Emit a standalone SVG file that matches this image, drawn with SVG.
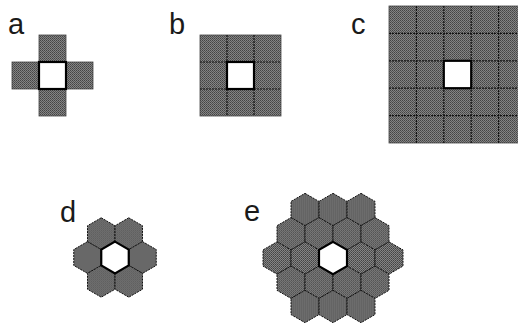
<svg xmlns="http://www.w3.org/2000/svg" width="518" height="327" viewBox="0 0 518 327">
<defs>
<pattern id="dith" patternUnits="userSpaceOnUse" width="2" height="2">
<rect width="2" height="2" fill="#848484"/>
<rect width="1" height="1" fill="#444"/>
<rect x="1" y="1" width="1" height="1" fill="#545454"/>
</pattern>
<polygon id="hd" points="0,-15.88 13.75,-7.94 13.75,7.94 0,15.88 -13.75,7.94 -13.75,-7.94"/>
<polygon id="he" points="0,-16.17 14,-8.08 14,8.08 0,16.17 -14,8.08 -14,-8.08"/>
</defs>
<style>
.lbl{font-family:"Liberation Sans",Arial,sans-serif;font-size:29px;fill:#1a1a1a}
.cell{fill:url(#dith);stroke:#444;stroke-width:0.8}
.grid{stroke:#111;stroke-width:1.2;stroke-dasharray:2 1;fill:none}
.hex{fill:url(#dith);stroke:#111;stroke-width:1;stroke-dasharray:2 1}
.hole{fill:#fff;stroke:#000;stroke-width:2.2}
</style>
<rect width="518" height="327" fill="#fff"/>

<g id="panel-a">
<text class="lbl" x="8" y="34">a</text>
<rect class="cell" x="39" y="35" width="27" height="27"/>
<rect class="cell" x="12" y="62" width="27" height="27"/>
<rect class="cell" x="66" y="62" width="27" height="27"/>
<rect class="cell" x="39" y="89" width="27" height="27"/>
<rect class="hole" x="39" y="62" width="27" height="27"/>
</g>

<g id="panel-b">
<text class="lbl" x="169" y="34">b</text>
<rect class="cell" x="200" y="35" width="81" height="81"/>
<path class="grid" d="M227,35V116M254,35V116M200,62H281M200,89H281"/>
<rect class="hole" x="227" y="62" width="27" height="27"/>
</g>

<g id="panel-c">
<text class="lbl" x="351" y="34">c</text>
<rect class="cell" x="389" y="6" width="137" height="137"/>
<path class="grid" d="M416.4,6V143M443.8,6V143M471.2,6V143M498.6,6V143M389,33.4H526M389,60.8H526M389,88.2H526M389,115.6H526"/>
<rect class="hole" x="443.8" y="60.8" width="27.4" height="27.4"/>
</g>

<g id="panel-d">
<text class="lbl" x="60" y="222">d</text>
<use href="#hd" class="hex" x="101.25" y="233.68"/>
<use href="#hd" class="hex" x="128.75" y="233.68"/>
<use href="#hd" class="hex" x="87.5" y="257.5"/>
<use href="#hd" class="hex" x="142.5" y="257.5"/>
<use href="#hd" class="hex" x="101.25" y="281.32"/>
<use href="#hd" class="hex" x="128.75" y="281.32"/>
<use href="#hd" class="hole" x="115" y="257.5"/>
</g>

<g id="panel-e">
<text class="lbl" x="244" y="221">e</text>
<use href="#he" class="hex" x="305" y="209.5"/>
<use href="#he" class="hex" x="333" y="209.5"/>
<use href="#he" class="hex" x="361" y="209.5"/>
<use href="#he" class="hex" x="291" y="233.75"/>
<use href="#he" class="hex" x="319" y="233.75"/>
<use href="#he" class="hex" x="347" y="233.75"/>
<use href="#he" class="hex" x="375" y="233.75"/>
<use href="#he" class="hex" x="277" y="258"/>
<use href="#he" class="hex" x="305" y="258"/>
<use href="#he" class="hex" x="361" y="258"/>
<use href="#he" class="hex" x="389" y="258"/>
<use href="#he" class="hex" x="291" y="282.25"/>
<use href="#he" class="hex" x="319" y="282.25"/>
<use href="#he" class="hex" x="347" y="282.25"/>
<use href="#he" class="hex" x="375" y="282.25"/>
<use href="#he" class="hex" x="305" y="306.5"/>
<use href="#he" class="hex" x="333" y="306.5"/>
<use href="#he" class="hex" x="361" y="306.5"/>
<use href="#he" class="hole" x="333" y="258"/>
</g>
</svg>
